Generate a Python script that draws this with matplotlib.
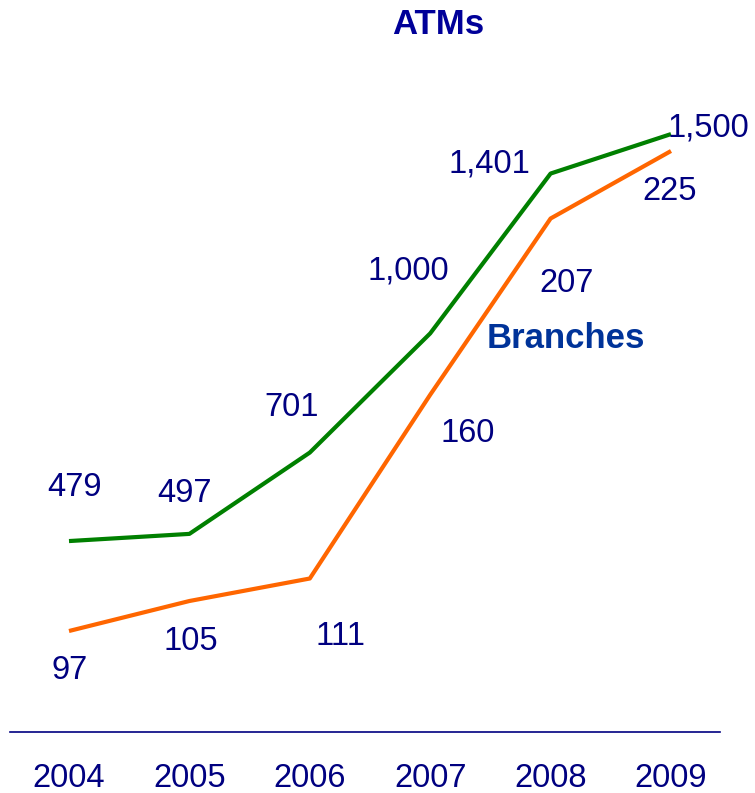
import matplotlib
matplotlib.use("Agg")
import matplotlib.pyplot as plt

plt.rcParams['font.family'] = ['Liberation Sans', 'DejaVu Sans']

years = [2004, 2005, 2006, 2007, 2008, 2009]
atms = [479, 497, 701, 1000, 1401, 1500]
branches = [97, 105, 111, 160, 207, 225]

# label offsets in pixels (label baseline-center relative to the point)
atm_offsets = [(6, 45), (-5, 32), (-18, 37), (-22, 54), (-61, 1), (37, -2)]
br_offsets = [(1, -48), (1, -49), (31, -66), (37, -47), (16, -73), (-1, -49)]

NAVY = "#000080"
GREEN = "#008000"
ORANGE = "#ff6600"

fig = plt.figure(figsize=(7.55, 7.93), dpi=100)
ax = fig.add_axes([10 / 755, 61 / 793, 710 / 755, 632 / 793])
ax2 = ax.twinx()

ax.plot(years, atms, color=GREEN, lw=3, solid_capstyle='butt', zorder=3)
ax2.plot(years, branches, color=ORANGE, lw=3, solid_capstyle='butt', zorder=3)

ax.set_xlim(2003.51, 2009.407)
ax.set_ylim(0, 1585.5)
ax2.set_ylim(70.07, 238.6)

for x, v, (dx, dy) in zip(years, atms, atm_offsets):
    ax.annotate(f"{v:,}", (x, v), xytext=(dx, dy), textcoords='offset pixels',
                ha='center', va='baseline', fontsize=23.5, color=NAVY)
for x, v, (dx, dy) in zip(years, branches, br_offsets):
    ax2.annotate(f"{v:,}", (x, v), xytext=(dx, dy), textcoords='offset pixels',
                 ha='center', va='baseline', fontsize=23.5, color=NAVY)

for a in (ax, ax2):
    for s in ('top', 'left', 'right'):
        a.spines[s].set_visible(False)
    a.set_yticks([])
ax2.spines['bottom'].set_visible(False)
ax.spines['bottom'].set_color(NAVY)
ax.spines['bottom'].set_linewidth(1.2)

ax.set_xticks(years)
ax.set_xticklabels([str(y) for y in years], fontsize=23.5, color=NAVY)
ax.tick_params(axis='x', length=0, pad=22)

fig.text(438 / 755, 1 - 34 / 793, "ATMs", ha='center', va='baseline',
         fontsize=25, fontweight='bold', color="#000099")
fig.text(566 / 755, 1 - 348 / 793, "Branches", ha='center', va='baseline',
         fontsize=25, fontweight='bold', color="#003399")

fig.savefig("out.png", dpi=100)
